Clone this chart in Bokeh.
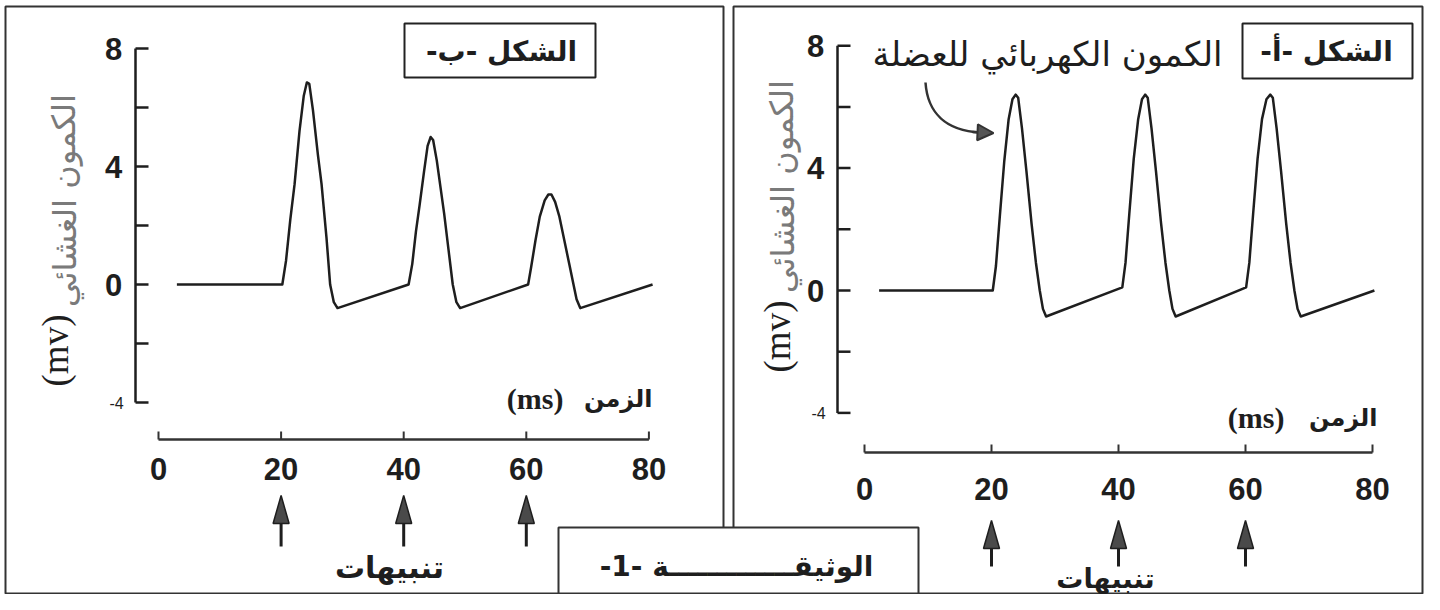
from bokeh.plotting import figure
from bokeh.models import Range1d, Arrow, NormalHead
from bokeh.core.properties import value
from bokeh.embed import file_html
from bokeh.resources import INLINE

# ---------------- data ----------------
# Figure b (left): decreasing action potentials
time_b = [3.0, 20.2, 20.8, 21.5, 22.2, 23.0, 23.7, 24.2, 24.6, 25.2, 26.0, 26.6, 27.4, 28.0, 28.6, 29.2,
          40.8, 41.4, 42.0, 42.6, 43.3, 43.9, 44.4, 44.8, 45.4, 46.0, 46.6, 47.3, 48.0, 48.6, 49.2,
          60.3, 60.8, 61.5, 62.2, 63.0, 63.6, 64.1, 64.7, 65.4, 66.2, 67.0, 67.7, 68.2, 68.8, 80.6]
mv_b = [0.0, 0.0, 0.8, 2.2, 3.4, 5.2, 6.4, 6.85, 6.8, 5.9, 4.4, 3.4, 1.6, 0.0, -0.6, -0.8,
        0.0, 0.7, 1.8, 2.7, 3.8, 4.7, 5.0, 4.9, 4.2, 3.3, 2.4, 1.2, 0.0, -0.6, -0.8,
        0.0, 0.6, 1.5, 2.3, 2.85, 3.05, 3.05, 2.8, 2.3, 1.5, 0.7, 0.0, -0.5, -0.8, 0.0]

# Figure a (right): constant action potentials
time_a = [2.3, 20.2, 20.7, 21.3, 22.0, 22.7, 23.3, 23.8, 24.2, 24.8, 25.5, 26.3, 27.0, 27.6, 28.1, 28.6,
          40.6, 41.1, 41.7, 42.4, 43.1, 43.7, 44.2, 44.6, 45.2, 45.9, 46.7, 47.4, 48.0, 48.5, 49.0,
          60.1, 60.6, 61.2, 61.9, 62.6, 63.3, 63.9, 64.3, 64.9, 65.6, 66.4, 67.1, 67.7, 68.2, 68.7, 80.3]
mv_a = [0.0, 0.0, 0.8, 2.4, 4.2, 5.6, 6.25, 6.4, 6.3, 5.3, 3.9, 2.2, 0.9, 0.0, -0.6, -0.85,
        0.1, 0.9, 2.5, 4.3, 5.6, 6.25, 6.4, 6.3, 5.3, 3.9, 2.2, 0.9, 0.0, -0.6, -0.85,
        0.1, 0.9, 2.5, 4.3, 5.6, 6.25, 6.4, 6.3, 5.3, 3.9, 2.2, 0.9, 0.0, -0.6, -0.85, 0.0]

x_ticks = [0, 20, 40, 60, 80]
x_tick_labels = ["0", "20", "40", "60", "80"]
y_ticks = [8, 6, 4, 2, 0, -2, -4]
y_label_values = [8, 4, 0, -4]
y_label_texts = ["8", "4", "0", "-4"]
stimuli = [20, 40, 60]

title_b = "الشكل -ب-\u200f"
title_a = "الشكل -أ-\u200f"
annotation_a = "الكمون الكهربائي للعضلة"
y_title_ar = "الكمون الغشائي"
y_title_unit = "(mv)"
x_title_ar = "الزمن"
x_title_unit = "(ms)"
stim_label = "تنبيهات"
doc_title = "الوثيقـــــــــــــة -1-\u200f"

# ---------------- layout (pixel coordinates of the picture) ----------------
W, H = 1424, 594
X_LO, X_HI = 0, W
Y_TOP, Y_BOT = 0, H

AR = value("DejaVu Sans")
SANS = value("Liberation Sans")
SERIF = value("Liberation Serif")
INK = "#1e1e1e"

p = figure(width=W, height=H, x_range=Range1d(X_LO, X_HI), y_range=Range1d(Y_BOT, Y_TOP),
           output_backend="svg", toolbar_location=None, min_border=0,
           x_axis_location=None, y_axis_location=None, outline_line_color=None,
           background_fill_color="white", border_fill_color="white")
p.grid.visible = False

# panel geometry: pixel position of 0 ms / 0 mV and scale
panels = {
    "b": dict(x0=158, sx=6.13, y0=284, sy=29.5, axis_x=135, xaxis_y=439, xlab_y=468,
              arrow_tip=495, arrow_tail=546, stim_x=389, stim_y=567, stim_size="30px",
              ytitle_x=64, ytitle_y=200, unit_x=55, unit_y=350,
              xtitle_r=652, xtitle_y=398, xunit_r=563),
    "a": dict(x0=864, sx=6.35, y0=290, sy=30.6, axis_x=837, xaxis_y=452, xlab_y=488,
              arrow_tip=520, arrow_tail=566, stim_x=1105, stim_y=578, stim_size="27px",
              ytitle_x=782, ytitle_y=186, unit_x=777, unit_y=336,
              xtitle_r=1377, xtitle_y=417, xunit_r=1284),
}
for k, g in panels.items():
    p.extra_x_ranges[k + "x"] = Range1d((X_LO - g["x0"]) / g["sx"], (X_HI - g["x0"]) / g["sx"])
    p.extra_y_ranges[k + "y"] = Range1d((g["y0"] - Y_BOT) / g["sy"], (g["y0"] - Y_TOP) / g["sy"])

# ---------------- frames ----------------
p.quad(left=[5, 733], right=[723, X_HI - 2], top=[6, 6], bottom=[Y_BOT - 1, Y_BOT - 1],
       fill_color=None, line_color="#333333", line_width=2)
# title boxes
p.quad(left=[404, 1242], right=[595, 1412], top=[23, 23], bottom=[77, 78],
       fill_color="white", line_color="#222222", line_width=2)
p.quad(left=[558], right=[918], top=[527], bottom=[Y_BOT - 1],
       fill_color="white", line_color="#333333", line_width=2)

p.text(x=[501, 1326], y=[51, 51], text=[title_b, title_a], text_font=AR, text_font_style="bold",
       text_font_size="28px", text_align="center", text_baseline="middle", text_color=INK)
p.text(x=[736], y=[566], text=[doc_title], text_font=AR, text_font_style="bold",
       text_font_size="28px", text_align="center", text_baseline="middle", text_color=INK)

# ---------------- panels ----------------
curves = {"b": (time_b, mv_b), "a": (time_a, mv_a)}
for k, g in panels.items():
    xr, yr = k + "x", k + "y"
    t, v = curves[k]
    # curve
    p.line(t, v, x_range_name=xr, y_range_name=yr, line_color=INK, line_width=2.5, line_join="round")
    # y axis
    p.segment(x0=[g["axis_x"]], x1=[g["axis_x"]], y0=[min(y_ticks)], y1=[max(y_ticks)],
              y_range_name=yr, line_color=INK, line_width=2.5)
    p.segment(x0=[g["axis_x"]] * len(y_ticks), x1=[g["axis_x"] + 13] * len(y_ticks),
              y0=y_ticks, y1=y_ticks, y_range_name=yr, line_color=INK, line_width=2.5)
    sizes = ["16px" if yv < 0 else "31px" for yv in y_label_values]
    styles = ["normal" if yv < 0 else "bold" for yv in y_label_values]
    xs = [g["axis_x"] - 19 if yv < 0 else g["axis_x"] - 22 for yv in y_label_values]
    p.text(x=xs, y=y_label_values, text=y_label_texts, y_range_name=yr, text_font=SANS,
           text_font_size=sizes, text_font_style=styles, text_align="center",
           text_baseline="middle", text_color=INK)
    # y title
    p.text(x=[g["ytitle_x"]], y=[g["ytitle_y"]], text=[y_title_ar], text_font=AR,
           text_font_size="32px", angle=1.5708, text_align="center", text_baseline="middle",
           text_color="#7a7a7a")
    p.text(x=[g["unit_x"]], y=[g["unit_y"]], text=[y_title_unit], text_font=SERIF,
           text_font_size="37px", angle=1.5708, text_align="center", text_baseline="middle",
           text_color=INK)
    # x axis (detached, below)
    p.segment(x0=[min(x_ticks)], x1=[max(x_ticks)], y0=[g["xaxis_y"]], y1=[g["xaxis_y"]],
              x_range_name=xr, line_color="#333333", line_width=2.5)
    p.segment(x0=x_ticks, x1=x_ticks, y0=[g["xaxis_y"] - 8] * len(x_ticks),
              y1=[g["xaxis_y"]] * len(x_ticks), x_range_name=xr, line_color="#333333", line_width=2)
    p.text(x=x_ticks, y=[g["xlab_y"]] * len(x_ticks), text=x_tick_labels, x_range_name=xr,
           text_font=SANS, text_font_size="31px", text_font_style="bold", text_align="center",
           text_baseline="middle", text_color=INK)
    # x title
    p.text(x=[g["xtitle_r"]], y=[g["xtitle_y"]], text=[x_title_ar],
           text_font=AR, text_font_style="bold", text_font_size="24px", text_align="right",
           text_baseline="middle", text_color=INK)
    p.text(x=[g["xunit_r"]], y=[g["xtitle_y"]], text=[x_title_unit],
           text_font=SERIF, text_font_style="bold", text_font_size="30px", text_align="right",
           text_baseline="middle", text_color=INK)
    # stimulation arrows
    hw = 8 / g["sx"]
    base = g["arrow_tip"] + 28
    p.segment(x0=stimuli, x1=stimuli, y0=[base - 4] * len(stimuli), y1=[g["arrow_tail"]] * len(stimuli),
              x_range_name=xr, line_color=INK, line_width=3)
    p.patches(xs=[[s - hw, s, s + hw] for s in stimuli],
              ys=[[base, g["arrow_tip"], base] for s in stimuli],
              x_range_name=xr, fill_color="#4a4a4a", line_color=INK, line_width=1.5)
    p.text(x=[g["stim_x"]], y=[g["stim_y"]], text=[stim_label], text_font=AR,
           text_font_style="bold", text_font_size=g["stim_size"], text_align="center",
           text_baseline="middle", text_color=INK)

# annotation of figure a
p.text(x=[1047], y=[53], text=[annotation_a], text_font=AR, text_font_size="34px",
       text_align="center", text_baseline="middle", text_color=INK)
p.bezier(x0=[925], y0=[82], x1=[980], y1=[132], cx0=[927], cy0=[112], cx1=[945], cy1=[130],
         line_color="#333333", line_width=2.5)
p.add_layout(Arrow(end=NormalHead(size=16, fill_color="#555555", line_color="#333333", line_width=2),
                   x_start=972, y_start=131.5, x_end=993, y_end=132.5,
                   line_color="#333333", line_width=2.5))

open("out.html", "w").write(file_html(p, INLINE))
